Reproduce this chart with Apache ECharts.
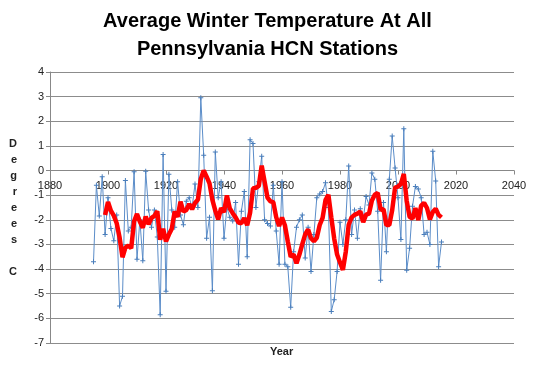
<!DOCTYPE html>
<html>
<head>
<meta charset="utf-8">
<script src="https://cdn.jsdelivr.net/npm/echarts@6/dist/echarts.min.js"></script>
<style>
html,body{margin:0;padding:0;background:#fff;}
#chart{width:535px;height:365px;}
</style>
</head>
<body>
<div id="chart"></div>
<script>
// Winter temperatures (deg C), one value per year starting 1895
const startYear = 1895;
const temps = [
  -3.7, -0.6, -1.85, -0.25, -2.6, -1.1, -2.35, -2.85, -1.8, -5.5,
  -5.1, -0.4, -2.45, -2.3, -0.05, -3.6, -2.0, -3.66, -0.03, -1.6,
  -2.3, -1.6, -2.7, -5.85, 0.65, -4.9, -0.15, -1.6, -2.3, -0.45,
  -1.8, -2.2, -1.25, -1.1, -1.5, -0.55, -1.5, 2.95, 0.62, -2.75,
  -1.9, -4.88, 0.75, -1.1, -0.45, -2.75, -1.5, -1.9, -2.05, -1.3,
  -3.8, -1.65, -0.85, -3.5, 1.25, 1.1, -1.5, -0.45, 0.58, -2.0,
  -2.15, -2.25, -0.6, -2.45, -3.8, -0.45, -3.8, -3.9, -5.55, -3.3,
  -2.3, -2.0, -1.8, -3.55, -2.3, -4.1, -2.6, -1.1, -0.95, -0.85,
  -0.5, -1.5, -5.72, -5.24, -4.1, -2.1, -3.0, -2.0, 0.18, -2.6,
  -1.6, -2.75, -1.55, -2.0, -1.05, -1.4, -0.1, -0.35, -1.65, -4.45,
  -1.3, -3.3, -0.35, 1.4, 0.1, -1.1, -2.8, 1.7, -4.05, -3.15,
  -1.45, -0.65, -0.75, -1.1, -2.6, -2.5, -3.0, 0.78, -0.42, -3.9,
  -2.9
];
// Red moving-average line, one value per year starting 1899
const maStartYear = 1899;
const movingAvg = [
  -1.8, -1.28, -1.63, -1.83, -2.14, -2.72, -3.52, -3.13, -3.05, -3.15,
  -2.06, -1.76, -2.08, -2.32, -1.87, -2.18, -1.92, -1.84, -1.65, -2.81,
  -2.36, -2.88, -2.6, -2.36, -1.66, -1.88, -1.26, -1.67, -1.6, -1.36,
  -1.57, -1.32, -1.18, -0.34, 0.0, -0.25, -0.52, -1.19, -1.63, -1.98,
  -1.52, -1.69, -1.01, -1.54, -1.73, -1.9, -2.11, -2.14, -1.93, -2.22,
  -1.71, -0.73, -0.7, -0.62, 0.2, -0.45, -1.1, -1.25, -1.28, -1.89,
  -2.25, -1.91, -2.22, -2.88, -3.5, -3.4, -3.77, -3.41, -2.99, -2.59,
  -2.39, -2.75, -2.87, -2.73, -2.21, -1.92, -1.2, -0.98, -1.9, -2.76,
  -3.41, -3.73, -4.03, -3.29, -2.2, -1.9, -1.8, -1.75, -1.66, -2.1,
  -1.79, -1.75, -1.22, -0.98, -0.91, -1.59, -1.57, -2.21, -2.21, -1.6,
  -0.69, -0.65, -0.55, -0.14, -1.23, -1.88, -1.95, -1.52, -2.01, -1.42,
  -1.31, -1.52, -1.99, -1.68, -1.55, -1.8, -1.9
];
const titleLines = ['Average Winter Temperature At All', 'Pennsylvania HCN Stations'];
const yAxisLetters = ['D', 'e', 'g', 'r', 'e', 'e', 's', '', 'C'];
const xAxisTitle = 'Year';
const yMin = -7, yMax = 4;
const xMin = 1880, xMax = 2040;

const bluePairs = temps.map((v, i) => [startYear + i, v]);
const redPairs = movingAvg.map((v, i) => [maStartYear + i, v]);

// plot area
const W = 535, H = 365;
const gL = 50, gR = 21, gT = 72, gB = 22;
const plotH = H - gT - gB;
const zeroY = gT + plotH * (yMax - 0) / (yMax - yMin);

const chart = echarts.init(document.getElementById('chart'), null, {renderer: 'canvas'});
const font = 'Liberation Sans, Arial, sans-serif';
chart.setOption({
  animation: false,
  backgroundColor: '#ffffff',
  title: {
    text: titleLines.join('\n'),
    left: 'center',
    top: 2,
    textStyle: {fontFamily: font, fontSize: 20, fontWeight: 'bold', color: '#000', lineHeight: 28}
  },
  grid: [
    {left: gL, right: gR, top: gT, bottom: gB, containLabel: false},
    {left: gL, right: gR, top: gT, bottom: H - zeroY, containLabel: false}
  ],
  xAxis: [
    {
      gridIndex: 0, type: 'value', min: xMin, max: xMax, interval: 20,
      show: false
    },
    {
      gridIndex: 1, type: 'value', min: xMin, max: xMax, interval: 20,
      axisLine: {show: true, onZero: false, lineStyle: {color: '#888', width: 1}},
      axisTick: {show: true, length: 4, lineStyle: {color: '#888'}},
      axisLabel: {color: '#222', fontFamily: font, fontSize: 11, margin: 10, formatter: v => String(v)},
      splitLine: {show: false}
    }
  ],
  yAxis: [
    {
      gridIndex: 0, type: 'value', min: yMin, max: yMax, interval: 1,
      name: yAxisLetters.join('\n'),
      nameLocation: 'middle', nameRotate: 0, nameGap: 33,
      nameTextStyle: {fontFamily: font, fontSize: 11, fontWeight: 'bold', color: '#222', lineHeight: 16},
      axisLine: {show: true, lineStyle: {color: '#888', width: 1}},
      axisTick: {show: true, length: 4, lineStyle: {color: '#888'}},
      axisLabel: {color: '#222', fontFamily: font, fontSize: 11, margin: 6},
      splitLine: {show: true, lineStyle: {color: '#8c8c8c', width: 1}}
    },
    {
      gridIndex: 1, type: 'value', min: 0, max: yMax, show: false
    }
  ],
  graphic: [{
    type: 'text', left: 270, top: 346,
    style: {text: xAxisTitle, font: 'bold 11px ' + font, fill: '#222'}
  }],
  series: [
    {
      type: 'line', data: bluePairs, xAxisIndex: 0, yAxisIndex: 0,
      lineStyle: {color: '#5b8dc9', width: 1},
      itemStyle: {color: '#4a7ebb'},
      symbol: 'path://M2,0H3V2H5V3H3V5H2V3H0V2H2Z', symbolSize: 5, showSymbol: true,
      z: 2
    },
    {
      type: 'line', data: redPairs, xAxisIndex: 0, yAxisIndex: 0,
      lineStyle: {color: '#ff0000', width: 4.5},
      symbol: 'none', z: 3
    }
  ]
});
</script>
</body>
</html>
